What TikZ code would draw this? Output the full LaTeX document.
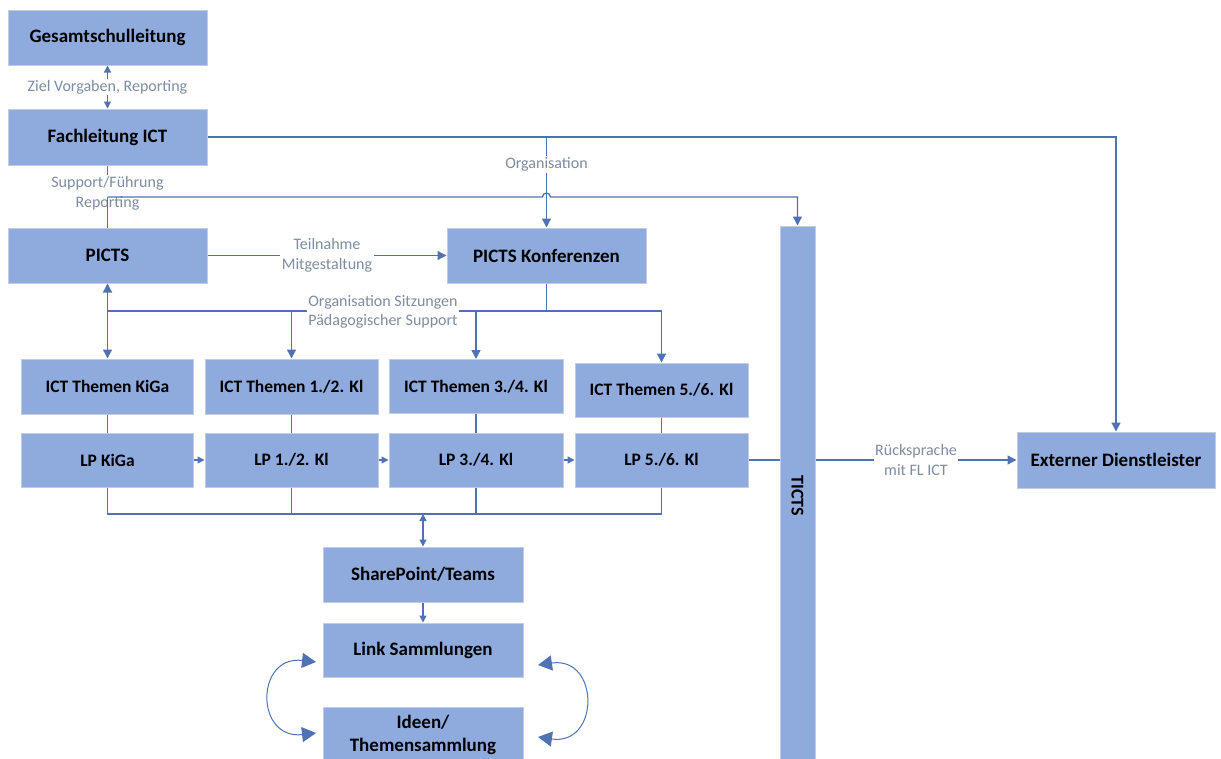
\documentclass[tikz,border=0pt]{standalone}
\usepackage{fontspec}
\setmainfont{Carlito}
\usetikzlibrary{arrows.meta}
\definecolor{boxfill}{RGB}{143,170,220}
\definecolor{boxline}{RGB}{196,205,220}
\definecolor{conncol}{RGB}{78,114,180}
\definecolor{lbltext}{RGB}{125,140,160}
\begin{document}
\begin{tikzpicture}[x=1pt,y=-1pt,
  box/.style={rectangle, fill=boxfill, draw=boxline, line width=1pt, inner sep=0pt, align=center, text=black, font=\fontsize{19}{23}\selectfont\bfseries},
  sbox/.style={box, font=\fontsize{17.5}{21}\selectfont\bfseries},
  conn/.style={draw=conncol, line width=1.3pt},
  arr/.style={conn, -{Triangle[width=9pt,length=9pt]}},
  arrsm/.style={conn, -{Triangle[width=7pt,length=7pt]}},
  dblsm/.style={conn, {Triangle[width=7pt,length=7pt]}-{Triangle[width=7pt,length=7pt]}},
  curv/.style={draw=conncol, line width=1pt, {Triangle[width=15pt,length=14pt]}-{Triangle[width=15pt,length=14pt]}},
  lbl/.style={fill=white, inner sep=1.5pt, align=center, text=lbltext, font=\fontsize{16}{19.5}\selectfont}
]
\useasboundingbox (0,0) rectangle (1221,758);

% boxes
\node[box, minimum width=199pt, minimum height=55pt] (gsl) at (107.5,37.5) {Gesamtschulleitung};
\node[box, minimum width=199pt, minimum height=56pt] (fach) at (107.5,137) {Fachleitung ICT};
\node[box, minimum width=199pt, minimum height=55pt] (picts) at (107.5,255.5) {PICTS};
\node[box, minimum width=199pt, minimum height=55pt] (konf) at (546.5,255.5) {PICTS Konferenzen};
\node[box, minimum width=35pt, minimum height=540pt] (ticts) at (797.5,496) {};
\node[rotate=-90, font=\fontsize{18}{22}\selectfont\bfseries] (tictstxt) at (ticts.center) {TICTS};
\node[box, minimum width=198pt, minimum height=56pt] (ext) at (1116,460) {Externer Dienstleister};

\node[sbox, minimum width=172pt, minimum height=55pt] (tk) at (107.5,386.5) {ICT Themen KiGa};
\node[sbox, minimum width=173pt, minimum height=55pt] (t12) at (291.5,386.5) {ICT Themen 1./2. Kl};
\node[sbox, minimum width=174pt, minimum height=54pt] (t34) at (476,386.5) {ICT Themen 3./4. Kl};
\node[sbox, minimum width=173pt, minimum height=54pt] (t56) at (661.5,390) {ICT Themen 5./6. Kl};

\node[sbox, minimum width=172pt, minimum height=54pt] (lpk) at (107.5,460) {LP KiGa};
\node[sbox, minimum width=173pt, minimum height=54pt] (lp12) at (291.5,460) {LP 1./2. Kl};
\node[sbox, minimum width=174pt, minimum height=54pt] (lp34) at (476,460) {LP 3./4. Kl};
\node[sbox, minimum width=173pt, minimum height=54pt] (lp56) at (661.5,460) {LP 5./6. Kl};

\node[box, minimum width=200pt, minimum height=55pt] (sp) at (423,574.5) {SharePoint/Teams};
\node[box, minimum width=200pt, minimum height=54pt] (link) at (423,650) {Link Sammlungen};
\node[box, minimum width=200pt, minimum height=56pt] (ideen) at (423,735) {Ideen/\\Themensammlung};

% top connectors
\draw[dblsm] (gsl.south) -- (fach.north) node[lbl, midway] {Ziel Vorgaben, Reporting};
\draw[conn] (fach.south) -- (picts.north) node[lbl, pos=0.45] {Support/Führung\\Reporting};
\coordinate (j1) at (107.5,197);
\coordinate (o1) at (546.5,137);
\draw[arr] (o1) -- (konf.north) node[lbl, pos=0.3] {Organisation};
\draw[conn] (j1) -- (picts.north);
\draw[arr] (j1) -- (542.5,197) arc[start angle=180, end angle=360, radius=4] -| (ticts.north);
\draw[arr] (fach.east) -| (ext.north);
\draw[arr] (picts.east) -- (konf.west) node[lbl, midway] {Teilnahme\\Mitgestaltung};

% distribution line
\coordinate (j2) at (107.5,311);
\coordinate (j3) at (546.5,311);
\coordinate (j4) at (661.5,311);
\draw[conn] (konf.south) -- (j3);
\draw[conn] (j2) -- (j4);
\node[lbl] (lbs) at (383,312) {Organisation Sitzungen\\Pädagogischer Support};
\draw[arr] (j2) -- (picts.south);
\draw[arr] (j2) -- (tk.north);
\draw[arr] (t12.north |- j2) -- (t12.north);
\draw[arr] (t34.north |- j2) -- (t34.north);
\draw[arr] (j4) -- (t56.north);

% themes to LP
\draw[conn] (tk.south) -- (lpk.north);
\draw[conn] (t12.south) -- (lp12.north);
\draw[conn] (t34.south) -- (lp34.north);
\draw[conn] (t56.south) -- (lp56.north);

% LP chain
\draw[arrsm] (lpk.east) -- (lp12.west);
\draw[arrsm] (lp12.east) -- (lp34.west);
\draw[arrsm] (lp34.east) -- (lp56.west);
\draw[conn] (lp56.east) -- (lp56.east -| ticts.west);
\draw[arr] (ticts.east |- ext.west) -- (ext.west) node[lbl, midway] {Rücksprache\\mit FL ICT};

% bottom collector
\coordinate (b0) at (107.5,514);
\coordinate (b3) at (661.5,514);
\draw[conn] (lpk.south) -- (b0) -- (b3) -- (lp56.south);
\draw[conn] (lp12.south) -- (lp12.south |- b0);
\draw[conn] (lp34.south) -- (lp34.south |- b0);
\draw[dblsm] (sp.north |- b0) -- (sp.north);
\draw[arrsm] (sp.south) -- (link.north);

% curved arrows
\coordinate (c1) at (316,662);
\coordinate (c2) at (316,733);
\coordinate (c3) at (538,665);
\coordinate (c4) at (538,737);
\draw[curv] (c1) .. controls (255,655) and (255,740) .. (c2);
\draw[curv] (c3) .. controls (600,656) and (600,746) .. (c4);
\end{tikzpicture}
\end{document}
